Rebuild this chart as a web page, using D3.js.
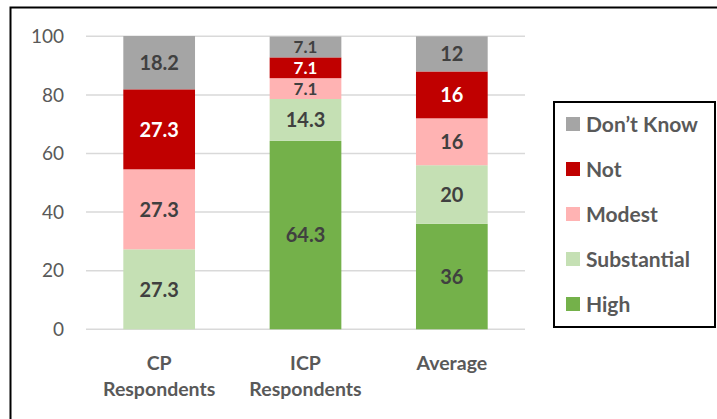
<!DOCTYPE html>
<html><head><meta charset="utf-8">
<script src="https://cdn.jsdelivr.net/npm/d3@7"></script>
<style>body{margin:0;background:#fff}svg{display:block}</style>
</head><body><svg id="c" width="717" height="419"></svg>
<script>
const categories = [["CP","Respondents"],["ICP","Respondents"],["Average"]];
const seriesNames = ["High","Substantial","Modest","Not","Don\u2019t Know"];
const high = [0, 64.3, 36];
const substantial = [27.3, 14.3, 20];
const modest = [27.3, 7.1, 16];
const notVals = [27.3, 7.1, 16];
const dontKnow = [18.2, 7.1, 12];
const yTicks = [0,20,40,60,80,100];
const colors = ["#74B14A","#C5E0B4","#FFB3B3","#C00000","#A5A5A5"];
const labelColors = ["#404040","#404040","#404040","#ffffff","#404040"];

const values = [high, substantial, modest, notVals, dontKnow];
const font = "Lato, 'Open Sans', sans-serif";
const svg = d3.select("#c");
svg.append("rect").attr("x",10.5).attr("y",7.5).attr("width",720).attr("height",420)
  .attr("fill","#fff").attr("stroke","#000").attr("stroke-width",2);

const x = d3.scaleBand().domain(d3.range(categories.length)).range([86,525]).paddingInner(0.51).paddingOuter(0.255);
const y = d3.scaleLinear().domain([0,100]).range([329.3,36.3]);

const g = svg.append("g");
g.selectAll(".grid").data(yTicks).join("line")
  .attr("x1",86).attr("x2",525).attr("y1",d=>y(d)).attr("y2",d=>y(d))
  .attr("stroke","#D9D9D9").attr("stroke-width",1.5);
g.selectAll(".yt").data(yTicks).join("text")
  .attr("x",64).attr("y",d=>y(d)).attr("dy","0.35em").attr("text-anchor","end")
  .attr("font-family",font).attr("font-size",19).attr("fill","#595959").text(d=>d);

const stackData = categories.map((c,i)=>{const o={}; seriesNames.forEach((s,j)=>o[s]=values[j][i]); return o;});
const stack = d3.stack().keys(seriesNames)(stackData);
stack.forEach((layer,j)=>{
  layer.forEach((d,i)=>{
    if (d[1]-d[0] <= 0) return;
    const h = y(d[0])-y(d[1]);
    g.append("rect").attr("x",x(i)).attr("width",x.bandwidth())
      .attr("y",y(d[1])).attr("height",h).attr("fill",colors[j]);
    g.append("text").attr("x",x(i)+x.bandwidth()/2).attr("y",(y(d[0])+y(d[1]))/2)
      .attr("dy","0.36em").attr("text-anchor","middle").attr("font-family",font)
      .attr("font-weight","bold").attr("font-size",h < 24 ? 17 : 20).attr("fill",labelColors[j])
      .text(values[j][i]);
  });
});

categories.forEach((lines,i)=>{
  const t = g.append("text").attr("text-anchor","middle").attr("font-family",font)
    .attr("font-weight","bold").attr("font-size",19.5).attr("fill","#595959");
  lines.forEach((l,k)=>t.append("tspan").attr("x",x(i)+x.bandwidth()/2).attr("y",370+k*26).text(l));
});

// legend
const lg = svg.append("g");
lg.append("rect").attr("x",554).attr("y",102).attr("width",161).attr("height",225)
  .attr("fill","#fff").attr("stroke","#000").attr("stroke-width",2);
const order = [4,3,2,1,0];
order.forEach((j,k)=>{
  const cy = 124 + k*45;
  lg.append("rect").attr("x",566).attr("y",cy-7).attr("width",14).attr("height",14).attr("fill",colors[j]);
  lg.append("text").attr("x",586).attr("y",cy).attr("dy","0.36em").attr("font-family",font)
    .attr("font-weight","bold").attr("font-size",21).attr("fill","#595959").text(seriesNames[j]);
});
</script></body></html>
